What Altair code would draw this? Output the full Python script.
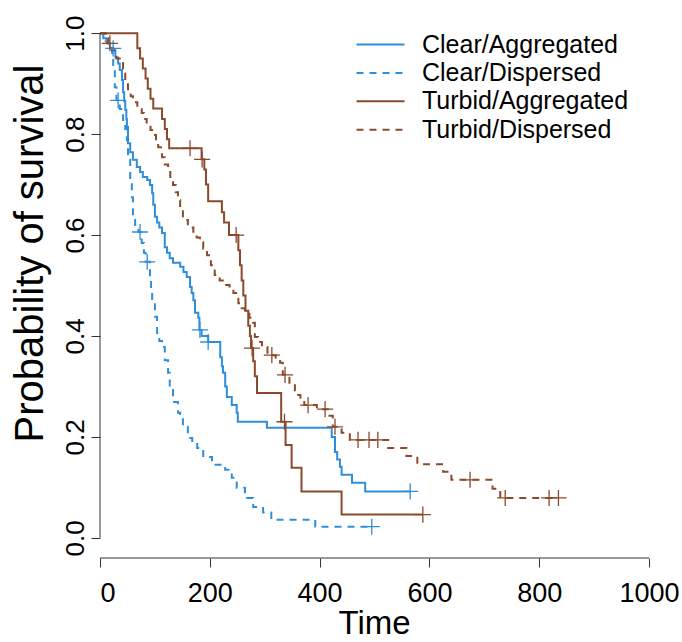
import altair as alt
import pandas as pd

groups = ["Clear/Aggregated", "Clear/Dispersed", "Turbid/Aggregated", "Turbid/Dispersed"]
colors = ["#2f8edb", "#2f8edb", "#8b4a2b", "#8b4a2b"]
dashes = [[1, 0], [7, 6], [1, 0], [7, 6]]

# Clear/Aggregated (solid blue)
ca_t = [0, 6, 12, 18, 24, 28, 33, 36, 40, 42, 44, 46, 48, 49, 51, 55, 60, 67, 73, 78, 86, 91, 95, 97, 100,
        104, 108, 113, 118, 122, 127, 133, 146, 152, 158, 164, 167, 170, 173, 179, 181, 185, 197, 219, 222,
        224, 228, 231, 240, 249, 251, 304, 422, 428, 432, 437, 440, 459, 483, 565]
ca_s = [1.0, 0.99, 0.98, 0.97, 0.965, 0.952, 0.94, 0.927, 0.907, 0.883, 0.865, 0.848, 0.83, 0.814, 0.782, 0.764,
        0.749, 0.735, 0.725, 0.715, 0.709, 0.699, 0.683, 0.66, 0.636, 0.625, 0.615, 0.604, 0.576, 0.565, 0.554,
        0.545, 0.537, 0.527, 0.517, 0.497, 0.485, 0.471, 0.446, 0.436, 0.412, 0.40, 0.388, 0.358, 0.34, 0.327,
        0.30, 0.279, 0.263, 0.248, 0.23, 0.218, 0.20, 0.17, 0.155, 0.141, 0.125, 0.109, 0.092, 0.092]
ca_cens_t = [182, 197, 565]
ca_cens_s = [0.412, 0.388, 0.092]

# Clear/Dispersed (dashed blue)
cd_t = [0, 10, 16, 22, 24, 27, 30, 36, 42, 46, 49, 51, 55, 58, 60, 64, 70, 76, 80, 83, 91, 93, 95, 100, 104,
        108, 113, 118, 124, 127, 133, 142, 146, 151, 160, 168, 177, 188, 204, 228, 240, 249, 264, 279, 297,
        312, 392, 495]
cd_s = [1.0, 0.985, 0.97, 0.955, 0.927, 0.893, 0.867, 0.85, 0.828, 0.81, 0.788, 0.749, 0.709, 0.675, 0.636,
        0.62, 0.606, 0.584, 0.565, 0.547, 0.517, 0.49, 0.471, 0.438, 0.406, 0.39, 0.378, 0.352, 0.327, 0.293,
        0.269, 0.248, 0.235, 0.22, 0.198, 0.188, 0.178, 0.16, 0.145, 0.135, 0.119, 0.099, 0.079, 0.061, 0.05,
        0.036, 0.022, 0.022]
cd_cens_t = [24, 33, 73, 86, 495]
cd_cens_s = [0.97, 0.867, 0.606, 0.547, 0.022]

# Turbid/Aggregated (solid brown)
ta_t = [0, 68, 73, 78, 83, 87, 92, 97, 113, 118, 122, 126, 185, 190, 193, 197, 222, 226, 235, 252, 255, 258,
        261, 265, 270, 273, 275, 279, 282, 286, 330, 338, 349, 367, 440, 588]
ta_s = [1.0, 0.97, 0.95, 0.93, 0.91, 0.89, 0.87, 0.851, 0.83, 0.81, 0.79, 0.772, 0.75, 0.73, 0.70, 0.667, 0.645,
        0.625, 0.60, 0.57, 0.54, 0.51, 0.48, 0.45, 0.42, 0.40, 0.376, 0.35, 0.32, 0.287, 0.23, 0.184, 0.139,
        0.092, 0.046, 0.046]
ta_cens_t = [164, 186, 248, 277, 336, 588]
ta_cens_s = [0.772, 0.75, 0.60, 0.376, 0.23, 0.046]

# Turbid/Dispersed (dashed brown)
td_t = [0, 10, 15, 22, 30, 36, 42, 46, 51, 56, 60, 68, 76, 80, 85, 92, 97, 102, 106, 113, 118, 124, 128, 133,
        138, 142, 146, 151, 160, 170, 176, 182, 188, 195, 202, 209, 218, 228, 236, 243, 252, 258, 264, 272, 279,
        282, 288, 295, 305, 320, 328, 333, 345, 355, 365, 372, 395, 415, 424, 440, 455, 525, 558, 578, 625, 640,
        715, 729, 835]
td_s = [1.0, 0.99, 0.98, 0.966, 0.95, 0.941, 0.92, 0.907, 0.887, 0.875, 0.863, 0.85, 0.842, 0.83, 0.818, 0.808,
        0.798, 0.786, 0.774, 0.754, 0.74, 0.725, 0.71, 0.699, 0.685, 0.669, 0.653, 0.63, 0.615, 0.604, 0.595,
        0.586, 0.573, 0.56, 0.54, 0.521, 0.51, 0.501, 0.493, 0.485, 0.465, 0.455, 0.446, 0.436, 0.426, 0.398,
        0.388, 0.378, 0.362, 0.355, 0.347, 0.323, 0.305, 0.283, 0.273, 0.263, 0.255, 0.242, 0.22, 0.208, 0.194,
        0.178, 0.162, 0.146, 0.131, 0.115, 0.097, 0.079, 0.079]
td_cens_t = [18, 313, 337, 379, 410, 428, 470, 490, 506, 674, 738, 818, 835]
td_cens_s = [0.98, 0.362, 0.323, 0.263, 0.255, 0.22, 0.194, 0.194, 0.194, 0.115, 0.079, 0.079, 0.079]

x_ticks = [0, 200, 400, 600, 800, 1000]
y_ticks = [0.0, 0.2, 0.4, 0.6, 0.8, 1.0]
x_axis_span = [0, 1000]
y_axis_span = [0.0, 1.0]
x_domain = [0, 1040]
y_domain = [-0.04, 1.04]

curves = []
cens = []
for g, (t, s, ct, cs) in zip(groups, [(ca_t, ca_s, ca_cens_t, ca_cens_s), (cd_t, cd_s, cd_cens_t, cd_cens_s),
                                      (ta_t, ta_s, ta_cens_t, ta_cens_s), (td_t, td_s, td_cens_t, td_cens_s)]):
    for i, (a, b) in enumerate(zip(t, s)):
        curves.append({"group": g, "time": a, "surv": b, "order": i})
    for a, b in zip(ct, cs):
        cens.append({"group": g, "time": a, "surv": b})
curves = pd.DataFrame(curves)
cens = pd.DataFrame(cens)

font = "Liberation Sans"
xs = alt.Scale(domain=x_domain, nice=False, zero=False)
ys = alt.Scale(domain=y_domain, nice=False, zero=False)

legend = alt.Legend(title=None, orient="none", legendX=268, legendY=19, symbolType="M-2.4,0L2.4,0",
                    symbolSize=400, symbolStrokeWidth=2, labelFontSize=25, labelFont=font,
                    labelColor="black", labelOffset=29, rowPadding=2.4, labelLimit=0)

lines = alt.Chart(curves).mark_line(interpolate="step-after", strokeWidth=2, clip=True).encode(
    x=alt.X("time:Q", scale=xs, axis=alt.Axis(values=x_ticks, format="d", domain=False, grid=False, tickSize=9,
                                                tickColor="#333", labelFontSize=27, labelFont=font,
                                                labelColor="black", labelPadding=13, title="Time",
                                                titleFontSize=33, titleFont=font, titleFontWeight="normal",
                                                titleColor="black", titleX=274, titlePadding=1)),
    y=alt.Y("surv:Q", scale=ys, axis=alt.Axis(values=y_ticks, format=".1f", domain=False, grid=False,
                                               tickSize=9, tickColor="#333", labelFontSize=26, labelFont=font,
                                               labelColor="black", labelAngle=270, labelAlign="center",
                                               labelBaseline="bottom", labelPadding=3,
                                               title="Probability of survival", titleFontSize=40,
                                               titleFont=font, titleFontWeight="normal", titleColor="black",
                                               titlePadding=12, titleY=240)),
    color=alt.Color("group:N", scale=alt.Scale(domain=groups, range=colors), legend=legend),
    strokeDash=alt.StrokeDash("group:N", scale=alt.Scale(domain=groups, range=dashes), legend=legend),
    order="order:Q",
)

points = alt.Chart(cens).mark_point(shape="M-1,0L1,0M0,-1L0,1", size=260, strokeWidth=1.3,
                                    filled=False, opacity=1).encode(
    x=alt.X("time:Q", scale=xs),
    y=alt.Y("surv:Q", scale=ys),
    stroke=alt.Stroke("group:N", scale=alt.Scale(domain=groups, range=colors), legend=None),
)

xaxis_line = alt.Chart(pd.DataFrame({"a": [x_axis_span[0]], "b": [x_axis_span[1]], "y": [y_domain[0]]})
                       ).mark_rule(color="#333", strokeWidth=1).encode(
    x=alt.X("a:Q", scale=xs), x2="b:Q", y=alt.Y("y:Q", scale=ys))
yaxis_line = alt.Chart(pd.DataFrame({"x": [x_axis_span[0]], "a": [y_axis_span[0]], "b": [y_axis_span[1]]})
                       ).mark_rule(color="#333", strokeWidth=1).encode(
    x=alt.X("x:Q", scale=xs), y=alt.Y("a:Q", scale=ys), y2="b:Q")

chart = alt.layer(lines, points, xaxis_line, yaxis_line).properties(
    width=571, height=545,
    autosize=alt.AutoSizeParams(type="none"),
    padding={"left": 100, "top": 13, "right": 11, "bottom": 84},
    background="white",
).configure_view(stroke=None)

chart.save("out.html", embed_options={"renderer": "svg", "actions": False})
